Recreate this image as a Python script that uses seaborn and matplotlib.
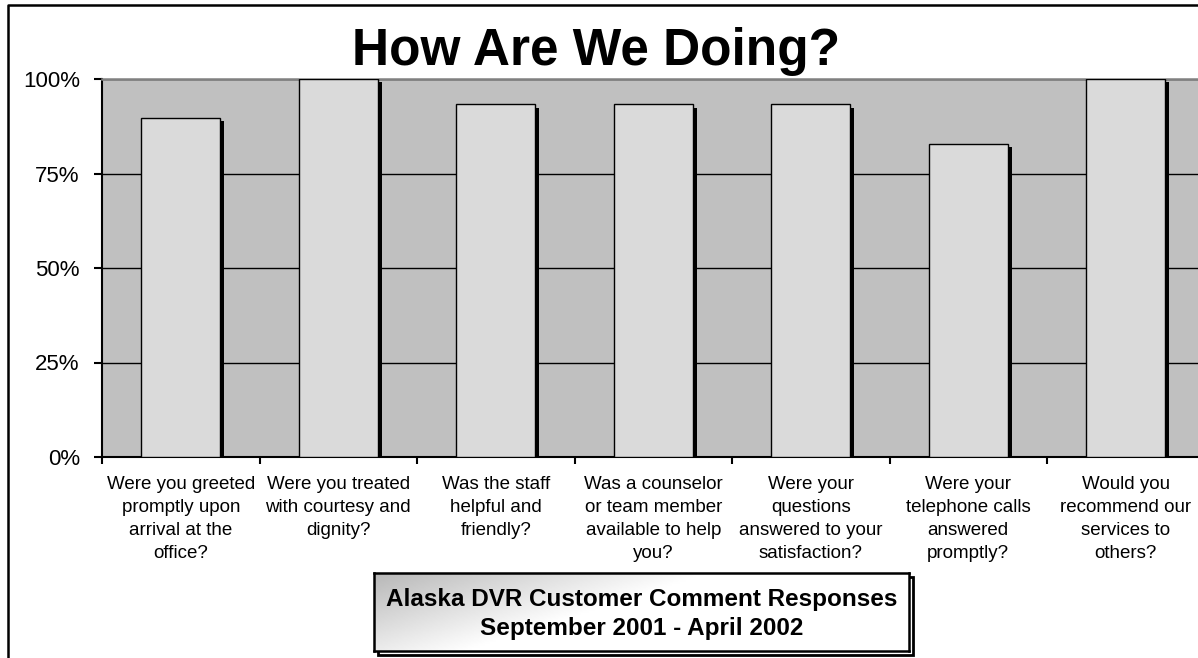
import numpy as np
import pandas as pd
import matplotlib
matplotlib.use('Agg')
import matplotlib.pyplot as plt
import matplotlib.patheffects as pe
from matplotlib.lines import Line2D
from matplotlib.patches import Rectangle
from matplotlib.ticker import FixedLocator, PercentFormatter
import seaborn as sns

# Survey questions (tick labels) and share of positive answers
questions = [
    "Were you greeted\npromptly upon\narrival at the\noffice?",
    "Were you treated\nwith courtesy and\ndignity?",
    "Was the staff\nhelpful and\nfriendly?",
    "Was a counselor\nor team member\navailable to help\nyou?",
    "Were your\nquestions\nanswered to your\nsatisfaction?",
    "Were your\ntelephone calls\nanswered\npromptly?",
    "Would you\nrecommend our\nservices to\nothers?",
]
positive_share = [0.897, 1.0, 0.933, 0.933, 0.933, 0.828, 1.0]
y_ticks = [0, 0.25, 0.5, 0.75, 1.0]

title = "How Are We Doing?"
box_line1 = "Alaska DVR Customer Comment Responses"
box_line2 = "September 2001 - April 2002"

df = pd.DataFrame({'question': questions, 'share': positive_share})

sns.set_theme(style='white')
plt.rcParams['font.family'] = ['Liberation Sans', 'DejaVu Sans']

W, H = 1198, 658
fig = plt.figure(figsize=(W / 100, H / 100), dpi=100)
fig.patch.set_facecolor('white')

# plot area (runs a little past the right edge like the original)
ax = fig.add_axes([102 / W, 1 - 457 / H, 1102.5 / W, 378 / H])
ax.set_facecolor('#C0C0C0')

sns.barplot(data=df, x='question', y='share', order=questions,
            color='#DADADA', saturation=1, width=0.5,
            edgecolor='black', linewidth=1.0, ax=ax)

for bar in ax.patches:
    bar.set_zorder(3)
    bar.set_path_effects([
        pe.SimplePatchShadow(offset=(3.0, -2.3), shadow_rgbFace='black', alpha=1.0),
        pe.Normal(),
    ])

ax.set_ylim(0, 1)
ax.set_xlim(-0.5, len(questions) - 0.5)
ax.yaxis.set_major_locator(FixedLocator(y_ticks))
ax.yaxis.set_major_formatter(PercentFormatter(1.0, decimals=0))
ax.set_axisbelow(True)
ax.yaxis.grid(True, color='black', linewidth=1.0)
ax.xaxis.grid(False)

ax.set_xlabel('')
ax.set_ylabel('')

# category labels under the bars, tick marks at category boundaries
ax.set_xticks(range(len(questions)))
ax.set_xticklabels(questions, linespacing=1.44, color='black')
ax.tick_params(axis='x', which='major', length=0, pad=14, labelsize=13.5)
ax.xaxis.set_minor_locator(FixedLocator(np.arange(-0.5, len(questions), 1.0)))
ax.tick_params(axis='x', which='minor', length=5, width=1.5, direction='out',
               color='black', bottom=True)
ax.tick_params(axis='y', length=6, width=1.5, direction='out', color='black',
               pad=10, labelsize=16, labelcolor='black', left=True)

for side in ['left', 'bottom']:
    ax.spines[side].set_color('black')
    ax.spines[side].set_linewidth(1.5)
ax.spines['top'].set_color('#808080')
ax.spines['top'].set_linewidth(1.8)
ax.spines['right'].set_visible(False)

# title
fig.text(596 / W, 1 - 65 / H, title, ha='center', va='baseline',
         fontsize=37, fontweight='bold', color='black')

# outer frame lines (left and top)
fig.add_artist(Line2D([8 / W, 8 / W, 1.0], [0.0, 1 - 5 / H, 1 - 5 / H],
                      color='black', linewidth=1.8, transform=fig.transFigure))

# caption box with gradient fill and offset shadow
bx0, bx1, by0, by1 = 374, 909, 573, 651
shadow = Rectangle(((bx0 + 4) / W, 1 - (by1 + 4) / H), (bx1 - bx0) / W, (by1 - by0) / H,
                   transform=fig.transFigure, facecolor='none', edgecolor='black',
                   linewidth=2.0, zorder=0)
fig.add_artist(shadow)

box_ax = fig.add_axes([bx0 / W, 1 - by1 / H, (bx1 - bx0) / W, (by1 - by0) / H])
box_ax.set_zorder(2)
gx, gy = np.meshgrid(np.linspace(0, 1, 200), np.linspace(0, 1, 40))
grad = np.clip(0.72 + 0.45 * gx + 0.2 * gy, 0, 1)
box_ax.imshow(grad, cmap='gray', vmin=0, vmax=1, aspect='auto',
              extent=[0, 1, 0, 1], origin='upper', interpolation='bilinear')
box_ax.set_xticks([])
box_ax.set_yticks([])
for sp in box_ax.spines.values():
    sp.set_visible(True)
    sp.set_color('black')
    sp.set_linewidth(1.8)

cx = (bx0 + bx1) / 2 / W
fig.text(cx, 1 - 606 / H, box_line1, ha='center', va='baseline',
         fontsize=17.5, fontweight='bold', color='black', zorder=5)
fig.text(cx, 1 - 635 / H, box_line2, ha='center', va='baseline',
         fontsize=17.5, fontweight='bold', color='black', zorder=5)

fig.savefig('out.png', dpi=100, facecolor='white')
